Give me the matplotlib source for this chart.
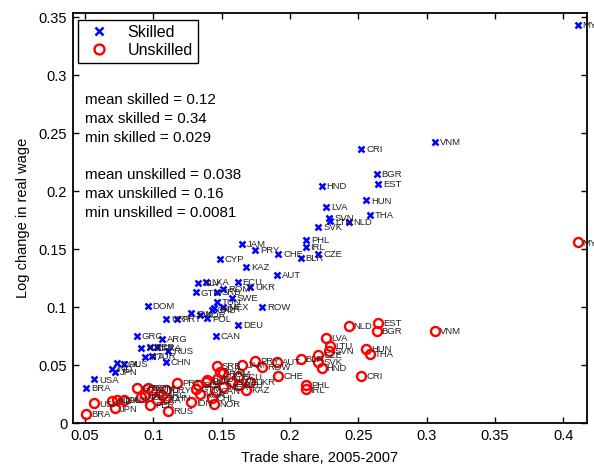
import matplotlib
matplotlib.use('Agg')
import matplotlib.pyplot as plt

plt.rcParams['font.family'] = ['Liberation Sans', 'DejaVu Sans']

# Trade share vs. log change in real wage (skilled / unskilled)
countries = ['MYS', 'VNM', 'CRI', 'BGR', 'EST', 'HND', 'HUN', 'LVA', 'THA', 'SVN',
             'LTU', 'NLD', 'SVK', 'PHL', 'IRL', 'CZE', 'BLR', 'CHE', 'PRY', 'JAM',
             'CYP', 'KAZ', 'AUT', 'ECU', 'UKR', 'ROW', 'DEU', 'CAN', 'SLV', 'LKA',
             'GTM', 'SRB', 'ROM', 'SWE', 'TUN', 'MEX', 'KOR', 'CHL', 'NOR', 'POL',
             'IDN', 'PRT', 'URY', 'DOM', 'GRC', 'ARG', 'NZL', 'PER', 'ITA', 'TUR',
             'FRA', 'RUS', 'CHN', 'COL', 'AUS', 'IND', 'JPN', 'USA', 'BRA']
trade_share = [0.4105, 0.3061, 0.2522, 0.2634, 0.2644, 0.2232, 0.2558, 0.2263, 0.2583, 0.2288,
               0.2293, 0.2429, 0.2207, 0.2117, 0.2115, 0.2207, 0.2078, 0.1914, 0.1744, 0.1647,
               0.1488, 0.1678, 0.1907, 0.1617, 0.1707, 0.1797, 0.1622, 0.1459, 0.1329, 0.1385,
               0.1312, 0.1463, 0.1512, 0.1573, 0.1463, 0.1512, 0.1341, 0.1430, 0.1444, 0.1395,
               0.1276, 0.1175, 0.1093, 0.0959, 0.0878, 0.1066, 0.0910, 0.0976, 0.0939, 0.0988,
               0.1029, 0.1110, 0.1093, 0.0732, 0.0785, 0.0695, 0.0720, 0.0566, 0.0510]
skilled = [0.3434, 0.2428, 0.2365, 0.2149, 0.2066, 0.2043, 0.1922, 0.1867, 0.1793, 0.1767,
           0.1740, 0.1738, 0.1692, 0.1580, 0.1522, 0.1459, 0.1428, 0.1457, 0.1494, 0.1543,
           0.1414, 0.1347, 0.1276, 0.1216, 0.1178, 0.1000, 0.0847, 0.0753, 0.1207, 0.1216,
           0.1129, 0.1134, 0.1155, 0.1078, 0.1048, 0.1000, 0.0934, 0.0977, 0.0991, 0.0905,
           0.0948, 0.0902, 0.0897, 0.1011, 0.0753, 0.0727, 0.0649, 0.0657, 0.0574, 0.0580,
           0.0655, 0.0623, 0.0531, 0.0517, 0.0511, 0.0466, 0.0442, 0.0379, 0.0302]
unskilled = [0.1560, 0.0796, 0.0408, 0.0796, 0.0862, 0.0479, 0.0643, 0.0738, 0.0595, 0.0626,
             0.0669, 0.0841, 0.0531, 0.0330, 0.0293, 0.0589, 0.0554, 0.0410, 0.0537, 0.0503,
             0.0440, 0.0287, 0.0526, 0.0400, 0.0359, 0.0488, 0.0330, 0.0280, 0.0330, 0.0360,
             0.0300, 0.0497, 0.0431, 0.0359, 0.0380, 0.0316, 0.0250, 0.0216, 0.0166, 0.0370,
             0.0181, 0.0345, 0.0287, 0.0302, 0.0302, 0.0244, 0.0230, 0.0158, 0.0244, 0.0287,
             0.0200, 0.0109, 0.0216, 0.0200, 0.0201, 0.0192, 0.0129, 0.0172, 0.0081]

stats_lines = ['mean skilled = 0.12', 'max skilled = 0.34', 'min skilled = 0.029',
               'mean unskilled = 0.038', 'max unskilled = 0.16', 'min unskilled = 0.0081']
stats_y = [0.2787, 0.2623, 0.2459, 0.2140, 0.1976, 0.1813]

xticks = [0.05, 0.1, 0.15, 0.2, 0.25, 0.3, 0.35, 0.4]
xticklabels = ['0.05', '0.1', '0.15', '0.2', '0.25', '0.3', '0.35', '0.4']
yticks = [0, 0.05, 0.1, 0.15, 0.2, 0.25, 0.3, 0.35]
yticklabels = ['0', '0.05', '0.1', '0.15', '0.2', '0.25', '0.3', '0.35']

fig = plt.figure(figsize=(5.94, 4.66), dpi=100, facecolor='white')
ax = fig.add_axes([0.1224, 0.0916, 0.8663, 0.8799])

ax.plot(trade_share, skilled, linestyle='none', marker='x', color='blue',
        markersize=5, markeredgewidth=1.8, label='Skilled')
ax.plot(trade_share, unskilled, linestyle='none', marker='o', color='red',
        markerfacecolor='none', markersize=6.5, markeredgewidth=1.7, label='Unskilled')

# country codes next to each marker
for c, x, ys, yu in zip(countries, trade_share, skilled, unskilled):
    for y in (ys, yu):
        ax.annotate(c, (x, y), xytext=(3.5, -0.5), textcoords='offset points',
                    ha='left', va='center', fontsize=6.8, color='#222222')

for txt, y in zip(stats_lines, stats_y):
    ax.text(0.05, y, txt, fontsize=10.9, ha='left', va='center', color='black')

ax.set_xlim(0.041, 0.4176)
ax.set_ylim(0, 0.3534)
ax.set_xticks(xticks)
ax.set_xticklabels(xticklabels)
ax.set_yticks(yticks)
ax.set_yticklabels(yticklabels)
ax.tick_params(direction='in', top=True, right=True, length=4, width=1,
               labelsize=10.5, pad=4)
for s in ax.spines.values():
    s.set_linewidth(1.3)

ax.set_xlabel('Trade share, 2005-2007', fontsize=10.5, labelpad=3)
ax.set_ylabel('Log change in real wage', fontsize=10.5, labelpad=6)
ax.xaxis.set_label_coords(0.48, -0.068)

leg = ax.legend(loc='upper left', bbox_to_anchor=(0.0103, 0.9837), borderaxespad=0,
                fontsize=11.5, fancybox=False, framealpha=1, edgecolor='black',
                handlelength=2.0, handletextpad=0.8, borderpad=0.3, labelspacing=0.2,
                markerscale=1.1)
leg.get_frame().set_linewidth(1.0)

plt.savefig('out.png', dpi=100)
